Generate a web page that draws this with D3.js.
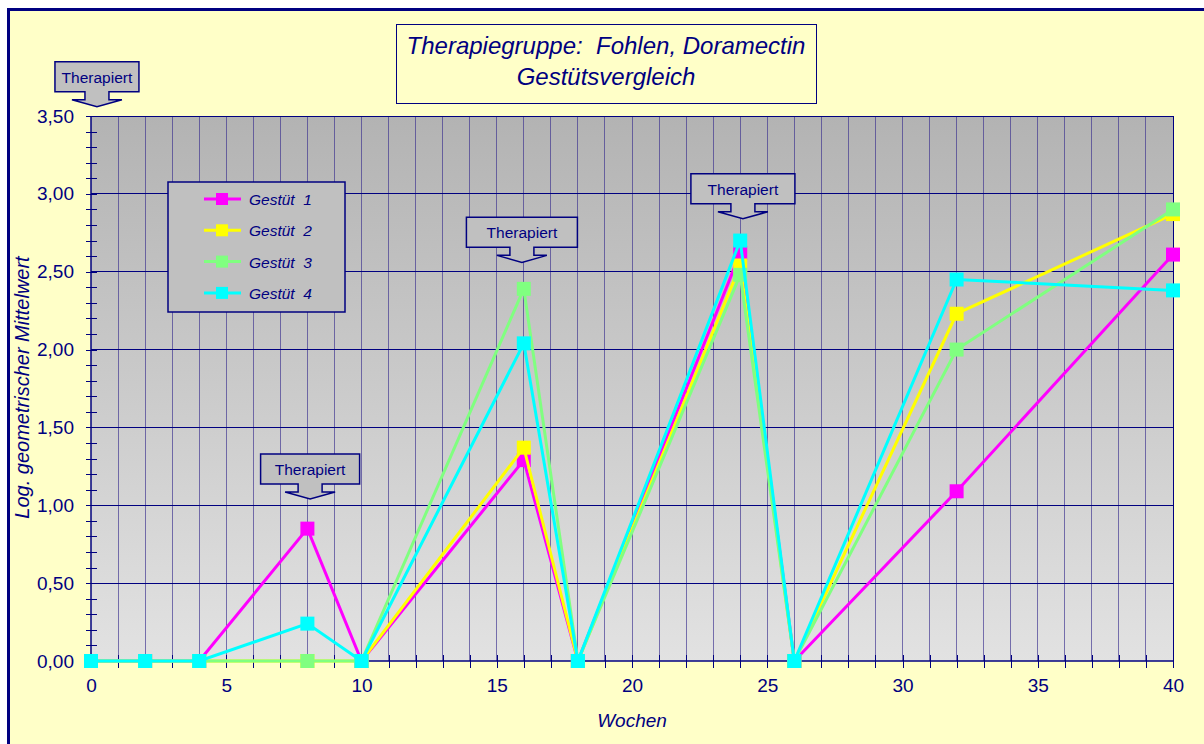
<!DOCTYPE html>
<html>
<head>
<meta charset="utf-8">
<script src="https://cdn.jsdelivr.net/npm/d3@7"></script>
<style>
  html, body { margin: 0; padding: 0; background: #ffffff; }
  svg { display: block; }
  text { font-family: "Liberation Sans", Arial, sans-serif; fill: #000080; }
</style>
</head>
<body>
<svg id="chart" width="1204" height="744"></svg>
<script>
// Sampling weeks
const weeks = [0, 2, 4, 8, 10, 16, 18, 24, 26, 32, 40];

// Log. geometric mean per stud farm
const gestuet1 = [0, 0, 0, 0.85, 0, 1.29, 0, 2.62, 0, 1.09, 2.61];
const gestuet2 = [0, 0, 0, 0, 0, 1.37, 0, 2.54, 0, 2.23, 2.87];
const gestuet3 = [0, 0, 0, 0, 0, 2.39, 0, 2.48, 0, 2.00, 2.90];
const gestuet4 = [0, 0, 0, 0.24, 0, 2.04, 0, 2.70, 0, 2.45, 2.38];

const seriesNames = ["Gestüt  1", "Gestüt  2", "Gestüt  3", "Gestüt  4"];
const seriesColors = ["#ff00ff", "#ffff00", "#80ff80", "#00ffff"];

const xTicks = [0, 5, 10, 15, 20, 25, 30, 35, 40];
const yTicks = [0, 0.5, 1, 1.5, 2, 2.5, 3, 3.5];

// Treatment markers: week and value at the arrow tip
const treatWeeks = [0.22, 8.1, 15.93, 24.1];
const treatValues = [3.56, 1.04, 2.56, 2.84];
const treatLabel = "Therapiert";

const titleLines = ["Therapiegruppe:  Fohlen, Doramectin", "Gestütsvergleich"];
const xTitle = "Wochen";
const yTitle = "Log. geometrischer Mittelwert";

// ---------------------------------------------------------------
const navy = "#000080";
const svg = d3.select("#chart");
const plot = { left: 91, right: 1173, top: 116, bottom: 661 };

const x = d3.scaleLinear().domain([0, 40]).range([plot.left, plot.right]);
const y = d3.scaleLinear().domain([0, 3.5]).range([plot.bottom, plot.top]);

const deLocale = d3.formatLocale({ decimal: ",", thousands: ".", grouping: [3], currency: ["", " €"] });
const fmtY = deLocale.format(".2f");

// chart area background with frame
svg.append("rect")
  .attr("x", 8.5).attr("y", 9.5).attr("width", 1220).attr("height", 760)
  .attr("fill", "#ffffc8").attr("stroke", navy).attr("stroke-width", 3);

// plot area gradient
const defs = svg.append("defs");
const grad = defs.append("linearGradient").attr("id", "plotGrad")
  .attr("x1", 0).attr("y1", 0).attr("x2", 0).attr("y2", 1);
grad.append("stop").attr("offset", "0%").attr("stop-color", "#b3b3b3");
grad.append("stop").attr("offset", "100%").attr("stop-color", "#e2e2e2");

svg.append("rect")
  .attr("x", plot.left).attr("y", plot.top)
  .attr("width", plot.right - plot.left).attr("height", plot.bottom - plot.top)
  .attr("fill", "url(#plotGrad)");

// vertical grid lines, one per week
const grid = svg.append("g").attr("shape-rendering", "crispEdges");
grid.selectAll("line.vx").data(d3.range(1, 40)).join("line")
  .attr("class", "vx")
  .attr("x1", d => x(d)).attr("x2", d => x(d))
  .attr("y1", plot.top).attr("y2", plot.bottom)
  .attr("stroke", "#3a2f8f").attr("stroke-opacity", 0.65).attr("stroke-width", 1);

// horizontal grid lines at major ticks
grid.selectAll("line.hy").data(yTicks.slice(1)).join("line")
  .attr("class", "hy")
  .attr("x1", plot.left).attr("x2", plot.right)
  .attr("y1", d => y(d)).attr("y2", d => y(d))
  .attr("stroke", navy).attr("stroke-width", 1);

// plot frame (top and right)
svg.append("path")
  .attr("d", `M${plot.left},${plot.top}H${plot.right}V${plot.bottom}`)
  .attr("fill", "none").attr("stroke", navy).attr("stroke-width", 1)
  .attr("shape-rendering", "crispEdges");

// Y axis
const yAxisG = svg.append("g").attr("transform", `translate(${plot.left},0)`)
  .call(d3.axisLeft(y).tickValues(d3.range(0, 36).map(i => i / 10)).tickSize(5).tickFormat(""));
yAxisG.select(".domain").remove();
yAxisG.selectAll(".tick line").attr("x1", 6).attr("x2", -5).attr("stroke", navy)
  .attr("shape-rendering", "crispEdges");

const yLab = svg.append("g").attr("transform", `translate(${plot.left},0)`)
  .call(d3.axisLeft(y).tickValues(yTicks).tickSize(5).tickPadding(12).tickFormat(fmtY));
yLab.select(".domain").remove();
yLab.selectAll(".tick line").attr("stroke", navy).attr("shape-rendering", "crispEdges");
yLab.selectAll(".tick text").attr("font-size", 19).attr("fill", navy)
  .attr("font-family", "Liberation Sans, Arial, sans-serif");

// X axis
const xAxisG = svg.append("g").attr("transform", `translate(0,${plot.bottom})`)
  .call(d3.axisBottom(x).tickValues(d3.range(0, 41)).tickSize(6).tickFormat(""));
xAxisG.select(".domain").remove();
xAxisG.selectAll(".tick line").attr("y1", -6).attr("y2", 7).attr("stroke", navy)
  .attr("shape-rendering", "crispEdges");

const xLab = svg.append("g").attr("transform", `translate(0,${plot.bottom})`)
  .call(d3.axisBottom(x).tickValues(xTicks).tickSize(7).tickPadding(11).tickFormat(d3.format("d")));
xLab.select(".domain").remove();
xLab.selectAll(".tick line").attr("stroke", navy).attr("shape-rendering", "crispEdges");
xLab.selectAll(".tick text").attr("font-size", 19).attr("fill", navy)
  .attr("font-family", "Liberation Sans, Arial, sans-serif");

// axis lines
svg.append("line").attr("x1", plot.left).attr("x2", plot.left)
  .attr("y1", plot.top).attr("y2", plot.bottom)
  .attr("stroke", navy).attr("stroke-width", 1.5);
svg.append("line").attr("x1", plot.left).attr("x2", plot.right)
  .attr("y1", plot.bottom).attr("y2", plot.bottom)
  .attr("stroke", navy).attr("stroke-width", 1.5);

// axis titles
svg.append("text").attr("x", (plot.left + plot.right) / 2).attr("y", 727)
  .attr("text-anchor", "middle").attr("font-size", 19).attr("font-style", "italic")
  .text(xTitle);
svg.append("text")
  .attr("transform", `translate(29,${(plot.top + plot.bottom) / 2 - 1}) rotate(-90)`)
  .attr("text-anchor", "middle").attr("font-size", 20).attr("font-style", "italic")
  .text(yTitle);

// series lines and markers
const allSeries = [gestuet1, gestuet2, gestuet3, gestuet4];
const line = d3.line().x((d, i) => x(weeks[i])).y(d => y(d));
const ms = 14;
allSeries.forEach((vals, s) => {
  const g = svg.append("g");
  g.append("path").datum(vals).attr("d", line)
    .attr("fill", "none").attr("stroke", seriesColors[s]).attr("stroke-width", 3);
  g.selectAll("rect").data(vals).join("rect")
    .attr("x", (d, i) => x(weeks[i]) - ms / 2).attr("y", d => y(d) - ms / 2)
    .attr("width", ms).attr("height", ms).attr("fill", seriesColors[s]);
});

// treatment callouts (box with downward arrow)
const boxW = [84, 99, 111, 104];
treatWeeks.forEach((w, i) => {
  const tx = x(w), ty = y(treatValues[i]);
  const bw = boxW[i], bh = 30;
  const wingY = ty - 7, boxB = wingY - 8, boxT = boxB - bh;
  const stem = 12, wing = 25;
  const l = tx - bw / 2, r = tx + bw / 2;
  const p = `M${l},${boxT}H${r}V${boxB}H${tx + stem}V${wingY}H${tx + wing}L${tx},${ty}` +
            `L${tx - wing},${wingY}H${tx - stem}V${boxB}H${l}Z`;
  svg.append("path").attr("d", p).attr("fill", "#c0c0c0")
    .attr("stroke", navy).attr("stroke-width", 1.5).attr("stroke-linejoin", "miter");
  svg.append("text").attr("x", tx).attr("y", boxT + bh / 2 + 6)
    .attr("text-anchor", "middle").attr("font-size", 15.5)
    .text(treatLabel);
});

// legend
const leg = svg.append("g").attr("transform", "translate(168,182)");
leg.append("rect").attr("x", 0).attr("y", 0).attr("width", 177).attr("height", 130)
  .attr("fill", "#c0c0c0").attr("stroke", navy).attr("stroke-width", 1.5);
seriesNames.forEach((n, i) => {
  const cy = 17 + i * 31.3;
  leg.append("line").attr("x1", 36).attr("x2", 73).attr("y1", cy).attr("y2", cy)
    .attr("stroke", seriesColors[i]).attr("stroke-width", 3);
  leg.append("rect").attr("x", 54 - 6).attr("y", cy - 6).attr("width", 12).attr("height", 12)
    .attr("fill", seriesColors[i]);
  leg.append("text").attr("x", 81).attr("y", cy + 6).attr("font-size", 15.5)
    .attr("font-style", "italic").attr("xml:space", "preserve").style("white-space", "pre").text(n);
});

// title box
svg.append("rect").attr("x", 396.5).attr("y", 24.5).attr("width", 420).attr("height", 79)
  .attr("fill", "#ffffc8").attr("stroke", navy).attr("stroke-width", 1);
titleLines.forEach((t, i) => {
  svg.append("text").attr("x", 606).attr("y", 54 + i * 31)
    .attr("text-anchor", "middle").attr("font-size", 24).attr("font-style", "italic")
    .attr("xml:space", "preserve").style("white-space", "pre").text(t);
});
</script>
</body>
</html>
